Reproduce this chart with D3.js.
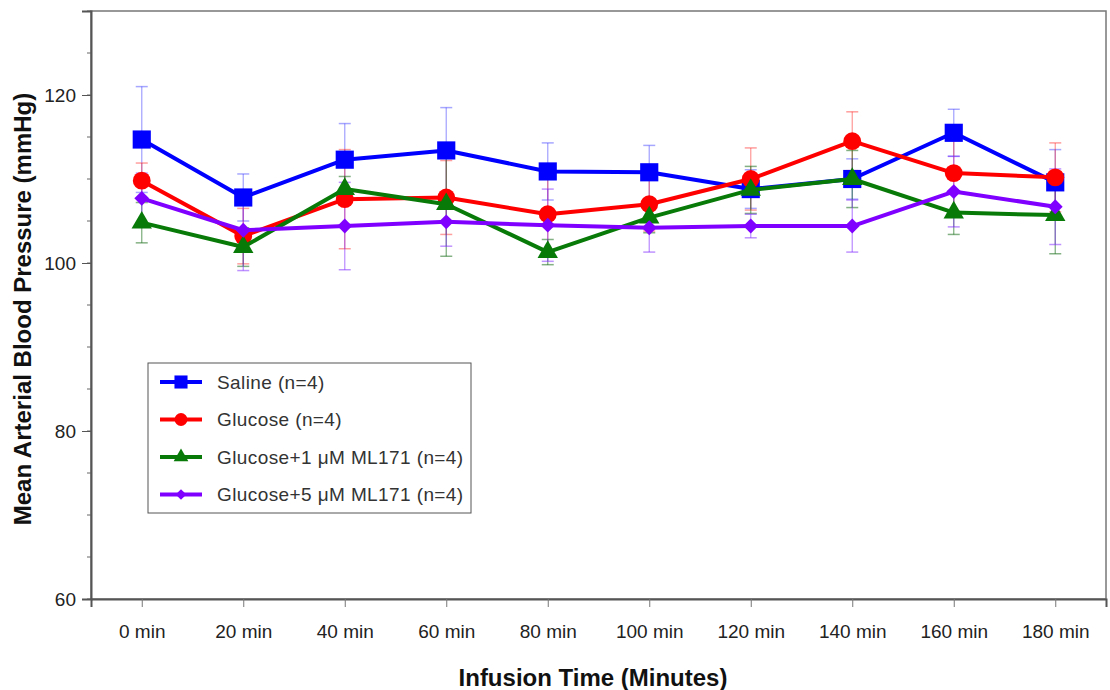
<!DOCTYPE html>
<html>
<head>
<meta charset="utf-8">
<script src="https://cdn.jsdelivr.net/npm/d3@7"></script>
<style>
  body { margin: 0; background: #fff; }
  text { font-family: "Liberation Sans", Arial, sans-serif; }
</style>
</head>
<body>
<div id="chart"></div>
<script>
// Infusion time points
const times = ['0 min', '20 min', '40 min', '60 min', '80 min', '100 min', '120 min', '140 min', '160 min', '180 min'];

// Mean values (mmHg) and SEM per group
const saline      = [114.7, 107.8, 112.3, 113.4, 110.9, 110.8, 108.8, 110.0, 115.5, 109.6];
const salineErr   = [6.3, 2.8, 4.3, 5.1, 3.4, 3.2, 2.3, 2.4, 2.8, 3.9];
const glucose     = [109.8, 103.2, 107.6, 107.8, 105.8, 107.0, 110.0, 114.5, 110.7, 110.2];
const glucoseErr  = [2.1, 3.3, 5.9, 4.4, 4.4, 3.2, 3.7, 3.5, 4.5, 4.1];
const ml1         = [104.8, 101.9, 108.8, 107.0, 101.3, 105.4, 108.7, 110.0, 106.0, 105.7];
const ml1Err      = [2.4, 2.3, 1.5, 6.2, 1.5, 1.8, 2.8, 3.4, 2.6, 4.6];
const ml5         = [107.7, 103.9, 104.4, 104.9, 104.5, 104.2, 104.4, 104.4, 108.5, 106.7];
const ml5Err      = [3.0, 4.8, 5.2, 2.9, 4.3, 2.9, 1.4, 3.1, 4.2, 4.5];

const seriesLabels = ['Saline (n=4)', 'Glucose (n=4)', 'Glucose+1 μM ML171 (n=4)', 'Glucose+5 μM ML171 (n=4)'];

const yMajorTicks = [60, 80, 100, 120];
const yMinorTicks = d3.range(60, 131, 5);

const width = 1110;
const height = 690;
const narrow = '"Liberation Sans Narrow", "Arial Narrow", "Liberation Sans", Arial, sans-serif';

const series = [
  { label: seriesLabels[0], values: saline, errs: salineErr, color: '#0000ff', bar: 'rgba(60,60,255,0.45)', symbol: 'square' },
  { label: seriesLabels[1], values: glucose, errs: glucoseErr, color: '#ff0000', bar: 'rgba(255,40,40,0.45)', symbol: 'circle' },
  { label: seriesLabels[2], values: ml1, errs: ml1Err, color: '#077a07', bar: 'rgba(10,100,10,0.5)', symbol: 'triangle' },
  { label: seriesLabels[3], values: ml5, errs: ml5Err, color: '#8000ff', bar: 'rgba(128,40,255,0.5)', symbol: 'diamond' },
];

const plot = { left: 91, right: 1106, top: 11, bottom: 599 };

const svg = d3.select('#chart')
  .append('svg')
  .attr('width', width)
  .attr('height', height);

const x = d3.scalePoint()
  .domain(times)
  .range([plot.left, plot.right])
  .padding(0.5);

const y = d3.scaleLinear()
  .domain([60, 130])
  .range([plot.bottom, plot.top]);

// Frame
svg.append('rect')
  .attr('x', plot.left).attr('y', plot.top)
  .attr('width', plot.right - plot.left)
  .attr('height', plot.bottom - plot.top)
  .attr('fill', 'none')
  .attr('stroke', '#777')
  .attr('stroke-width', 1.5);

// Y axis: minor ticks, then labelled majors
const yAxisG = svg.append('g').attr('transform', `translate(${plot.left},0)`);
yAxisG.selectAll('line.minor')
  .data(yMinorTicks)
  .join('line')
  .attr('class', 'minor')
  .attr('x1', -4).attr('x2', 0)
  .attr('y1', d => y(d)).attr('y2', d => y(d))
  .attr('stroke', '#666');

yAxisG.call(d3.axisLeft(y).tickValues(yMajorTicks).tickSize(9).tickPadding(6))
  .call(g => g.select('.domain').attr('stroke', '#555').attr('stroke-width', 2))
  .call(g => g.selectAll('.tick line').attr('stroke', '#555'))
  .call(g => g.selectAll('.tick text').attr('font-size', '19px').attr('fill', '#222')
    .attr('font-family', narrow));

// X axis
const xAxisG = svg.append('g').attr('transform', `translate(0,${plot.bottom})`);
xAxisG.call(d3.axisBottom(x).tickSize(8).tickPadding(18))
  .call(g => g.select('.domain').attr('stroke', '#555').attr('stroke-width', 2))
  .call(g => g.selectAll('.tick line').attr('stroke', '#777'))
  .call(g => g.selectAll('.tick text').attr('font-size', '19px').attr('fill', '#222')
    .attr('font-family', narrow));

// Axis titles
svg.append('text')
  .attr('transform', `translate(31,${(plot.top + plot.bottom) / 2 + 4}) rotate(-90)`)
  .attr('text-anchor', 'middle')
  .attr('font-size', '24px')
  .attr('font-weight', 'bold')
  .attr('fill', '#111')
  .text('Mean Arterial Blood Pressure (mmHg)');

svg.append('text')
  .attr('x', 593)
  .attr('y', 686)
  .attr('text-anchor', 'middle')
  .attr('font-size', '24px')
  .attr('font-weight', 'bold')
  .attr('fill', '#111')
  .text('Infusion Time (Minutes)');

// Marker shapes
function symbolPath(kind, scale) {
  const s = scale || 1;
  if (kind === 'square') return d3.symbol(d3.symbolSquare, 330 * s * s)();
  if (kind === 'circle') return d3.symbol(d3.symbolCircle, 250 * s * s)();
  if (kind === 'triangle') return d3.symbol(d3.symbolTriangle, 180 * s * s)();
  return d3.symbol(d3.symbolSquare, 110 * s * s)();
}
function symbolRotate(kind) { return kind === 'diamond' ? ' rotate(45)' : ''; }

// Error bars (behind everything)
const errG = svg.append('g').attr('class', 'errors');
const capW = 6;
series.forEach(s => {
  const g = errG.append('g');
  s.values.forEach((v, i) => {
    const cx = x(times[i]);
    const hi = y(v + s.errs[i]);
    const lo = y(v - s.errs[i]);
    g.append('line').attr('x1', cx).attr('x2', cx).attr('y1', hi).attr('y2', lo)
      .attr('stroke', s.bar).attr('stroke-width', 1.3);
    [hi, lo].forEach(yy => {
      g.append('line').attr('x1', cx - capW).attr('x2', cx + capW).attr('y1', yy).attr('y2', yy)
        .attr('stroke', s.bar).attr('stroke-width', 1.5);
    });
  });
});

// Lines and markers
const line = d3.line()
  .x((d, i) => x(times[i]))
  .y(d => y(d));

series.forEach(s => {
  const g = svg.append('g');
  g.append('path')
    .datum(s.values)
    .attr('d', line)
    .attr('fill', 'none')
    .attr('stroke', s.color)
    .attr('stroke-width', 4)
    .attr('stroke-linejoin', 'round');
  g.selectAll('path.marker')
    .data(s.values)
    .join('path')
    .attr('class', 'marker')
    .attr('d', symbolPath(s.symbol))
    .attr('transform', (d, i) => `translate(${x(times[i])},${y(d)})${symbolRotate(s.symbol)}`)
    .attr('fill', s.color);
});

// Legend
const legend = svg.append('g').attr('transform', 'translate(148,363)');
legend.append('rect')
  .attr('width', 323).attr('height', 150)
  .attr('fill', '#fff')
  .attr('stroke', '#555')
  .attr('stroke-width', 1);

series.forEach((s, i) => {
  const row = legend.append('g').attr('transform', `translate(0,${19 + i * 37.5})`);
  row.append('line')
    .attr('x1', 12).attr('x2', 54)
    .attr('stroke', s.color).attr('stroke-width', 4);
  row.append('path')
    .attr('d', symbolPath(s.symbol, 0.72))
    .attr('transform', `translate(33,0)${symbolRotate(s.symbol)}`)
    .attr('fill', s.color);
  row.append('text')
    .attr('x', 69).attr('y', 0)
    .attr('dy', '0.35em')
    .attr('font-size', '19px')
    .attr('letter-spacing', '0.4px')
    .attr('fill', '#333')
    .text(s.label);
});
</script>
</body>
</html>
